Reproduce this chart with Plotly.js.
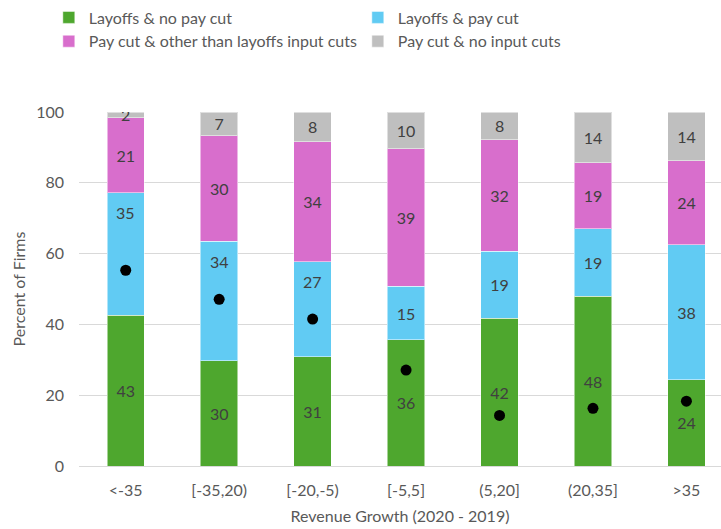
<!DOCTYPE html>
<html>
<head>
<meta charset="utf-8">
<script src="https://cdn.plot.ly/plotly-3.0.1.min.js"></script>
<style>html,body{margin:0;padding:0;background:#fff;}#chart{width:721px;height:529px;}</style>
</head>
<body>
<div id="chart"></div>
<script>
const categories = ["<-35", "[-35,20)", "[-20,-5)", "[-5,5]", "(5,20]", "(20,35]", ">35"];
const layoffsNoPayCut = [42.6, 29.7, 30.8, 35.6, 41.8, 48.0, 24.3];
const layoffsPayCut = [34.6, 33.8, 26.9, 15.2, 18.8, 19.0, 38.2];
const payCutOtherInputCuts = [21.2, 29.8, 33.9, 38.8, 31.6, 18.7, 23.8];
const payCutNoInputCuts = [1.6, 6.7, 8.4, 10.4, 7.8, 14.3, 13.7];
const dotValues = [55.3, 47.1, 41.5, 27.1, 14.3, 16.3, 18.3];
const seriesNames = ["Layoffs & no pay cut", "Layoffs & pay cut", "Pay cut & other than layoffs input cuts", "Pay cut & no input cuts"];
const yTicks = [0, 20, 40, 60, 80, 100];
// blue labels that sit near the top of their segment (moved away from the dots)
const raisedBlueLabels = [0, 1, 2];

const FONT = "Lato, 'Noto Sans', sans-serif";
const colors = ["#4EA72E", "#61CBF3", "#D86ECC", "#BFBFBF"];
const series = [layoffsNoPayCut, layoffsPayCut, payCutOtherInputCuts, payCutNoInputCuts];

const traces = series.map((vals, i) => ({
  type: "bar",
  name: seriesNames[i],
  x: categories,
  y: vals,
  text: vals.map((v, j) => (i === 1 && raisedBlueLabels.includes(j)) ? "" : String(Math.round(v))),
  texttemplate: "%{text}",
  marker: {color: colors[i], line: {color: "rgba(255,255,255,0.5)", width: 1}},
  textposition: "inside",
  insidetextanchor: "middle",
  constraintext: "none",
  textangle: 0,
  textfont: {family: FONT, size: 16, color: "#404040"},
  hoverinfo: "skip"
}));

traces.push({
  type: "scatter",
  mode: "markers",
  x: categories,
  y: dotValues,
  marker: {color: "#000000", size: 11},
  showlegend: false,
  hoverinfo: "skip"
});

const annotations = raisedBlueLabels.map(j => ({
  x: categories[j],
  y: layoffsNoPayCut[j] + layoffsPayCut[j],
  xref: "x", yref: "y",
  text: String(Math.round(layoffsPayCut[j])),
  showarrow: false,
  yshift: -20,
  font: {family: FONT, size: 16, color: "#404040"}
}));

const layout = {
  width: 721,
  height: 529,
  barmode: "stack",
  bargap: 0.6,
  margin: {l: 79, r: 0, t: 112, b: 63},
  paper_bgcolor: "#ffffff",
  plot_bgcolor: "#ffffff",
  font: {family: FONT, size: 16, color: "#595959"},
  showlegend: true,
  legend: {
    orientation: "h",
    x: -0.047,
    xanchor: "left",
    y: 1.315,
    yanchor: "top",
    entrywidth: 264,
    entrywidthmode: "pixels",
    traceorder: "normal",
    itemwidth: 30,
    font: {family: FONT, size: 16, color: "#595959"}
  },
  annotations: annotations,
  xaxis: {
    type: "category",
    range: [-0.5, 6.37],
    showgrid: false,
    showline: false,
    zeroline: false,
    ticks: "",
    ticklabelstandoff: 13,
    tickfont: {family: FONT, size: 16, color: "#595959"},
    title: {text: "Revenue Growth (2020 - 2019)", font: {family: FONT, size: 16, color: "#595959"}, standoff: 12}
  },
  yaxis: {
    range: [0, 100],
    tickvals: yTicks,
    ticktext: yTicks.map(String),
    showgrid: true,
    gridcolor: "#d9d9d9",
    gridwidth: 1,
    zeroline: true,
    zerolinecolor: "#d9d9d9",
    zerolinewidth: 1,
    showline: false,
    ticks: "",
    ticklabelstandoff: 14,
    tickfont: {family: FONT, size: 16, color: "#595959"},
    title: {text: "Percent of Firms", font: {family: FONT, size: 16, color: "#595959"}, standoff: 6}
  },
  hovermode: false
};

Plotly.newPlot("chart", traces, layout, {displayModeBar: false, staticPlot: true});
</script>
</body>
</html>
